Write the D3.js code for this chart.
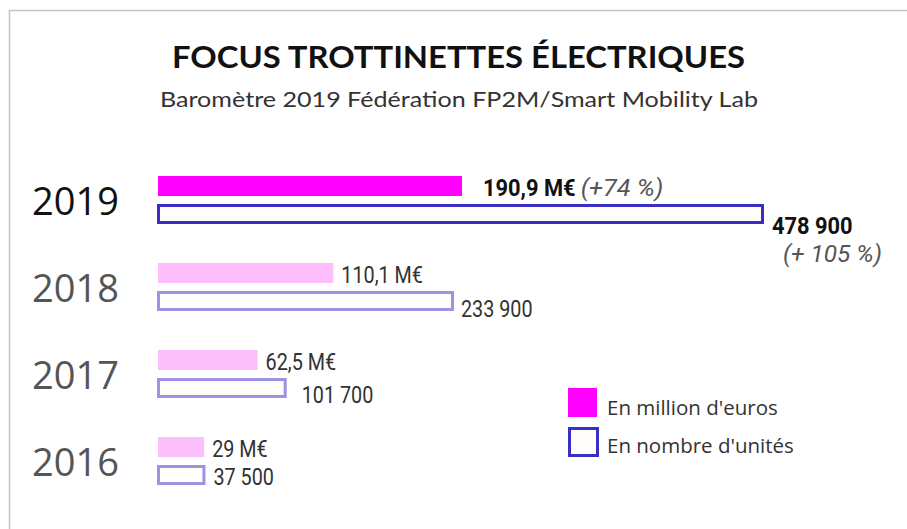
<!DOCTYPE html>
<html>
<head>
<meta charset="utf-8">
<script src="https://cdn.jsdelivr.net/npm/d3@7"></script>
<style>
  html, body { margin: 0; padding: 0; background: #fff; }
  svg { display: block; }
</style>
</head>
<body>
<svg id="chart" width="907" height="529"></svg>
<script>
// Scooter market figures, FP2M / Smart Mobility Lab barometer
const years = ["2019", "2018", "2017", "2016"];
const revenueMEur = [190.9, 110.1, 62.5, 29];
const unitsSold = [478900, 233900, 101700, 37500];
const revenueLabels = ["190,9 M€", "110,1 M€", "62,5 M€", "29 M€"];
const unitLabels = ["478 900", "233 900", "101 700", "37 500"];
const revenueGrowth = "(+74 %)";
const unitsGrowth = "(+ 105 %)";
const legendLabels = ["En million d'euros", "En nombre d'unités"];
const title = "FOCUS TROTTINETTES ÉLECTRIQUES";
const subtitle = "Baromètre 2019 Fédération FP2M/Smart Mobility Lab";

const svg = d3.select("#chart");
const W = 907, H = 529;
const x0 = 158;

// frame
svg.append("path")
  .attr("d", `M9.5,${H} V10.5 H${W}`)
  .attr("fill", "none").attr("stroke", "#c4c4c4").attr("stroke-width", 1.5);

// title block
svg.append("text")
  .attr("x", 458.5).attr("y", 68)
  .attr("text-anchor", "middle")
  .attr("font-family", "Lato, 'Open Sans', sans-serif")
  .attr("font-weight", 700).attr("font-size", 30)
  .attr("fill", "#111")
  .attr("textLength", 573).attr("lengthAdjust", "spacingAndGlyphs")
  .text(title);

svg.append("text")
  .attr("x", 459).attr("y", 107)
  .attr("text-anchor", "middle")
  .attr("font-family", "Lato, 'Open Sans', sans-serif")
  .attr("font-size", 22)
  .attr("fill", "#333")
  .attr("textLength", 598).attr("lengthAdjust", "spacingAndGlyphs")
  .text(subtitle);

// scales
const xMoney = d3.scaleLinear().domain([0, 190.9]).range([x0, 462]);
const xUnits = d3.scaleLinear().domain([0, 478900]).range([x0, 764]);
const yRow = d3.scalePoint().domain(years).range([176, 437]);

const moneyFill = d => d === "2019" ? "#ff00ff" : "#fcbffc";
const unitStroke = d => d === "2019" ? "#3a2ec4" : "#9d93e2";

const rows = years.map((y, i) => ({
  year: y, money: revenueMEur[i], units: unitsSold[i],
  moneyLabel: revenueLabels[i], unitLabel: unitLabels[i]
}));

const g = svg.append("g");
const row = g.selectAll("g.row").data(rows).join("g").attr("class", "row");

// year labels
row.append("text")
  .attr("x", 32)
  .attr("y", d => yRow(d.year) + 39)
  .attr("font-family", "'Open Sans', sans-serif")
  .attr("font-size", 38)
  .attr("fill", d => d.year === "2019" ? "#111" : "#555")
  .text(d => d.year);

// revenue bars
row.append("rect")
  .attr("x", x0)
  .attr("y", d => yRow(d.year))
  .attr("width", d => xMoney(d.money) - x0)
  .attr("height", 20)
  .attr("fill", d => moneyFill(d.year));

// unit bars (outlined)
const sw = 3;
row.append("rect")
  .attr("x", x0 + sw / 2 - 1)
  .attr("y", d => yRow(d.year) + 28 + sw / 2)
  .attr("width", d => xUnits(d.units) - x0 - sw + 1)
  .attr("height", 20 - sw)
  .attr("fill", "#fffdfa")
  .attr("stroke", d => unitStroke(d.year))
  .attr("stroke-width", sw);

const labelFont = "Roboto, 'Open Sans', sans-serif";
// narrow the value labels horizontally for a condensed look
function condense(sel, k) {
  sel.each(function () {
    const len = this.getComputedTextLength();
    d3.select(this).attr("textLength", len * k).attr("lengthAdjust", "spacingAndGlyphs");
  });
}

const is2019 = d => d.year === "2019";
const moneyGap = d => is2019(d) ? 21 : 8;
const unitGap = { "2019": 8, "2018": 7, "2017": 15, "2016": 8 };
const unitDrop = { "2019": 10, "2018": 6, "2017": 5, "2016": 0 };

// revenue value labels
const moneyText = row.append("text")
  .attr("x", d => xMoney(d.money) + moneyGap(d))
  .attr("y", d => yRow(d.year) + 20)
  .attr("font-family", labelFont)
  .attr("font-size", 23)
  .attr("font-weight", d => is2019(d) ? 700 : 400)
  .attr("fill", d => is2019(d) ? "#111" : "#333")
  .text(d => d.moneyLabel);
condense(moneyText.filter(is2019), 0.95);
condense(moneyText.filter(d => !is2019(d)), 0.86);

// unit value labels
const unitText = row.append("text")
  .attr("x", d => xUnits(d.units) + unitGap[d.year])
  .attr("y", d => yRow(d.year) + 48 + unitDrop[d.year])
  .attr("font-family", labelFont)
  .attr("font-size", 23)
  .attr("font-weight", d => is2019(d) ? 700 : 400)
  .attr("fill", d => is2019(d) ? "#111" : "#333")
  .text(d => d.unitLabel);
condense(unitText.filter(is2019), 0.95);
condense(unitText.filter(d => !is2019(d)), 0.86);

// growth annotations for 2019
const m2019 = moneyText.filter(is2019).node();
const gx = +m2019.getAttribute("x") + +m2019.getAttribute("textLength") + 5;
const growth1 = svg.append("text")
  .attr("x", gx).attr("y", yRow("2019") + 20)
  .attr("font-family", labelFont).attr("font-size", 23)
  .attr("font-style", "italic").attr("fill", "#555")
  .text(revenueGrowth);
condense(growth1, 1.1);

const growth2 = svg.append("text")
  .attr("x", 783).attr("y", 262)
  .attr("font-family", labelFont).attr("font-size", 23)
  .attr("font-style", "italic").attr("fill", "#555")
  .text(unitsGrowth);
condense(growth2, 1.06);

// legend
const legend = svg.append("g").attr("transform", "translate(568,388)");
legend.append("rect").attr("x", 0).attr("y", 0).attr("width", 29).attr("height", 29)
  .attr("fill", "#ff00ff");
legend.append("rect").attr("x", 1.5).attr("y", 40.5).attr("width", 28).attr("height", 27)
  .attr("fill", "#fffdfa").attr("stroke", "#3a2ec4").attr("stroke-width", 3);
legend.selectAll("text.lg").data(legendLabels).join("text")
  .attr("class", "lg")
  .attr("x", 39)
  .attr("y", (d, i) => 27 + i * 38)
  .attr("font-family", "'Open Sans', sans-serif")
  .attr("font-size", 20.5)
  .attr("fill", "#333")
  .text(d => d);
</script>
</body>
</html>
